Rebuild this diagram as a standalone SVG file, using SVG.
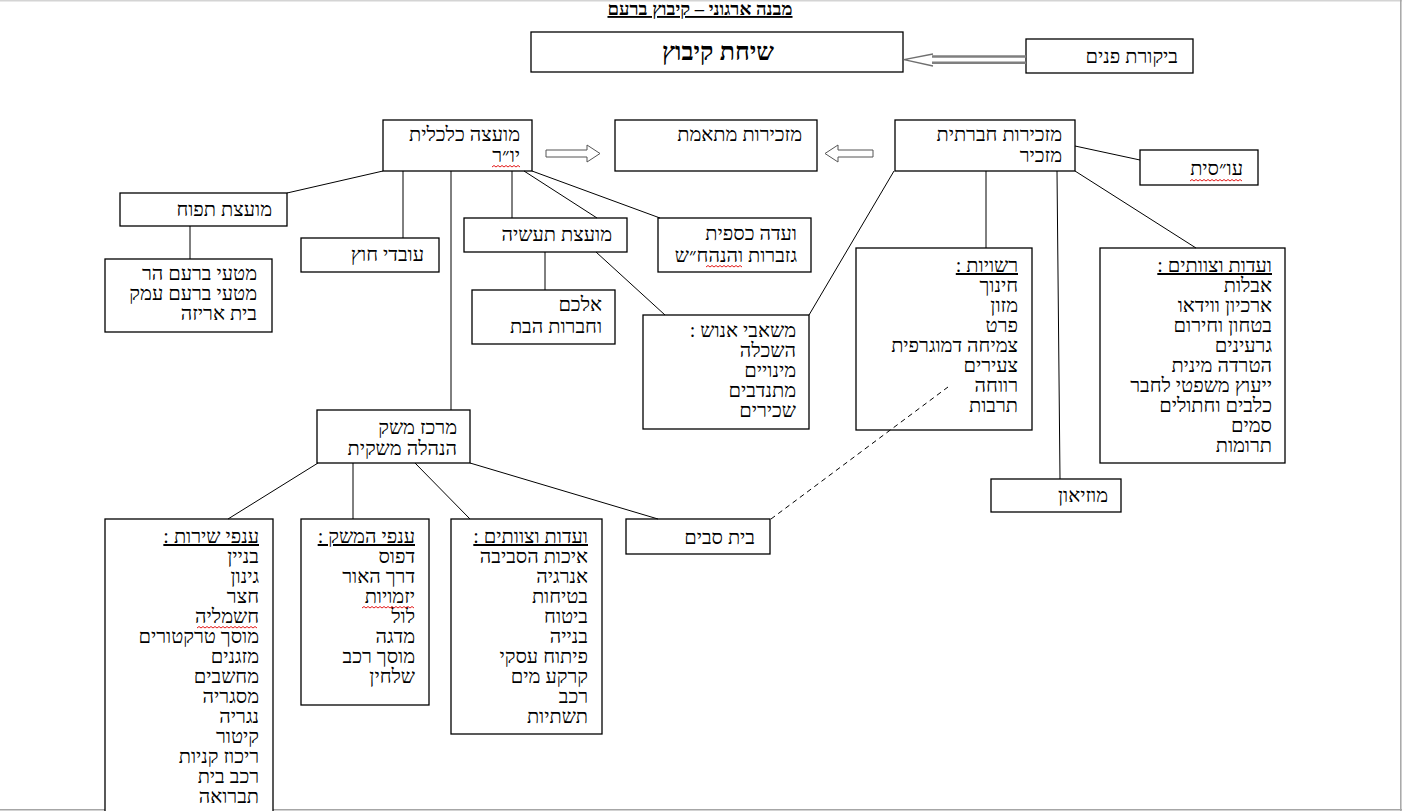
<svg xmlns="http://www.w3.org/2000/svg" width="1402" height="811" viewBox="0 0 1402 811">
<style>
  .box{fill:#fff;stroke:#000;stroke-width:1.3}
  .t{font-family:"Liberation Serif","DejaVu Sans",serif;font-size:20px;direction:rtl;text-anchor:start;fill:#000}
  .h{text-decoration:underline}
  .c line,.c polyline{stroke:#000;stroke-width:1;fill:none}
  .dash{stroke-dasharray:5,4}
  .sq{fill:none;stroke:#e00000;stroke-width:0.9}
  .frame{stroke-width:1.5;fill:none}
</style>
<rect x="0" y="0" width="1402" height="811" fill="#fff"/>
<line class="frame" x1="0" y1="0.8" x2="1402" y2="0.8" stroke="#d4d4d4"/>
<line class="frame" x1="1400.8" y1="0" x2="1400.8" y2="811" stroke="#a6a6a6"/>
<line class="frame" x1="0" y1="809.8" x2="1402" y2="809.8" stroke="#a6a6a6"/>

<text id="title" x="700" y="15" style="font-family:'Liberation Serif','DejaVu Sans',serif;font-size:18.5px;font-weight:bold;text-anchor:middle;direction:rtl;text-decoration:underline">מבנה ארגוני – קיבוץ ברעם</text>

<g id="sicha">
  <rect class="box" x="531" y="32" width="372" height="40"/>
  <text x="718" y="60" style="font-family:'Liberation Serif','DejaVu Sans',serif;font-size:25px;font-weight:bold;text-anchor:middle;direction:rtl">שיחת קיבוץ</text>
</g>
<g id="bikoret">
  <rect class="box" x="1026" y="39" width="167" height="34"/>
  <text class="t" x="1178" y="63">ביקורת פנים</text>
</g>
<g id="moetza">
  <rect class="box" x="383" y="120" width="149" height="51"/>
  <text class="t" x="520" y="141">מועצה כלכלית</text>
  <text class="t" x="520" y="162">יו״ר</text>
</g>
<g id="mazkirut-metaemet">
  <rect class="box" x="615" y="120" width="202" height="51"/>
  <text class="t" x="802" y="141">מזכירות מתאמת</text>
</g>
<g id="mazkirut-hevratit">
  <rect class="box" x="895" y="120" width="180" height="51"/>
  <text class="t" x="1062" y="141">מזכירות חברתית</text>
  <text class="t" x="1062" y="162">מזכיר</text>
</g>
<g id="osit">
  <rect class="box" x="1140" y="150" width="118" height="35"/>
  <text class="t" x="1243" y="175">עו״סית</text>
</g>
<g id="tapuah">
  <rect class="box" x="120" y="193" width="167" height="33"/>
  <text class="t" x="272" y="216">מועצת תפוח</text>
</g>
<g id="ovdei-hutz">
  <rect class="box" x="301" y="238" width="138" height="34"/>
  <text class="t" x="424" y="261">עובדי חוץ</text>
</g>
<g id="taasiya">
  <rect class="box" x="464" y="218" width="163" height="34"/>
  <text class="t" x="612" y="241">מועצת תעשיה</text>
</g>
<g id="vaada-kaspit">
  <rect class="box" x="658" y="218" width="153" height="54"/>
  <text class="t" x="797" y="240">ועדה כספית</text>
  <text class="t" x="797" y="262">גזברות והנהח״ש</text>
</g>
<g id="mataim">
  <rect class="box" x="105" y="259" width="167" height="73"/>
  <text class="t" x="257" y="280">מטעי ברעם הר</text>
  <text class="t" x="257" y="300">מטעי ברעם עמק</text>
  <text class="t" x="257" y="320">בית אריזה</text>
</g>
<g id="alkam">
  <rect class="box" x="472" y="290" width="143" height="54"/>
  <text class="t" x="602" y="311">אלכם</text>
  <text class="t" x="602" y="333">וחברות הבת</text>
</g>
<g id="mashabei-enosh">
  <rect class="box" x="643" y="315" width="166" height="114"/>
  <text class="t" x="796" y="337">משאבי אנוש :</text>
  <text class="t" x="796" y="357">השכלה</text>
  <text class="t" x="796" y="377">מינויים</text>
  <text class="t" x="796" y="397">מתנדבים</text>
  <text class="t" x="796" y="417">שכירים</text>
</g>
<g id="rashuyot">
  <rect class="box" x="856" y="248" width="176" height="182"/>
  <text class="t h" x="1018" y="272">רשויות :</text>
  <text class="t" x="1018" y="292">חינוך</text>
  <text class="t" x="1018" y="312">מזון</text>
  <text class="t" x="1018" y="332">פרט</text>
  <text class="t" x="1018" y="352">צמיחה דמוגרפית</text>
  <text class="t" x="1018" y="372">צעירים</text>
  <text class="t" x="1018" y="392">רווחה</text>
  <text class="t" x="1018" y="412">תרבות</text>
</g>
<g id="vaadot-hevra">
  <rect class="box" x="1100" y="248" width="185" height="215"/>
  <text class="t h" x="1272" y="272">ועדות וצוותים :</text>
  <text class="t" x="1272" y="292">אבלות</text>
  <text class="t" x="1272" y="312">ארכיון ווידאו</text>
  <text class="t" x="1272" y="332">בטחון וחירום</text>
  <text class="t" x="1272" y="352">גרעינים</text>
  <text class="t" x="1272" y="372">הטרדה מינית</text>
  <text class="t" x="1272" y="392">ייעוץ משפטי לחבר</text>
  <text class="t" x="1272" y="412">כלבים וחתולים</text>
  <text class="t" x="1272" y="432">סמים</text>
  <text class="t" x="1272" y="452">תרומות</text>
</g>
<g id="muzeon">
  <rect class="box" x="991" y="479" width="130" height="33"/>
  <text class="t" x="1108" y="502">מוזיאון</text>
</g>
<g id="merkaz-meshek">
  <rect class="box" x="317" y="410" width="153" height="53"/>
  <text class="t" x="457" y="434">מרכז משק</text>
  <text class="t" x="457" y="455">הנהלה משקית</text>
</g>
<g id="beit-savim">
  <rect class="box" x="626" y="519" width="144" height="35"/>
  <text class="t" x="755" y="544">בית סבים</text>
</g>
<g id="anfei-sherut">
  <rect class="box" x="105" y="519" width="168" height="300"/>
  <text class="t h" x="259" y="543">ענפי שירות :</text>
  <text class="t" x="259" y="563">בניין</text>
  <text class="t" x="259" y="583">גינון</text>
  <text class="t" x="259" y="603">חצר</text>
  <text class="t" x="259" y="623">חשמליה</text>
  <text class="t" x="259" y="643">מוסך טרקטורים</text>
  <text class="t" x="259" y="663">מזגנים</text>
  <text class="t" x="259" y="683">מחשבים</text>
  <text class="t" x="259" y="703">מסגריה</text>
  <text class="t" x="259" y="723">נגריה</text>
  <text class="t" x="259" y="743">קיטור</text>
  <text class="t" x="259" y="763">ריכוז קניות</text>
  <text class="t" x="259" y="783">רכב בית</text>
  <text class="t" x="259" y="803">תברואה</text>
</g>
<g id="anfei-meshek">
  <rect class="box" x="301" y="519" width="128" height="186"/>
  <text class="t h" x="415" y="543">ענפי המשק :</text>
  <text class="t" x="415" y="563">דפוס</text>
  <text class="t" x="415" y="583">דרך האור</text>
  <text class="t" x="415" y="603">יזמויות</text>
  <text class="t" x="415" y="623">לול</text>
  <text class="t" x="415" y="643">מדגה</text>
  <text class="t" x="415" y="663">מוסך רכב</text>
  <text class="t" x="415" y="683">שלחין</text>
</g>
<g id="vaadot-meshek">
  <rect class="box" x="451" y="519" width="151" height="215"/>
  <text class="t h" x="588" y="543">ועדות וצוותים :</text>
  <text class="t" x="588" y="563">איכות הסביבה</text>
  <text class="t" x="588" y="583">אנרגיה</text>
  <text class="t" x="588" y="603">בטיחות</text>
  <text class="t" x="588" y="623">ביטוח</text>
  <text class="t" x="588" y="643">בנייה</text>
  <text class="t" x="588" y="663">פיתוח עסקי</text>
  <text class="t" x="588" y="683">קרקע מים</text>
  <text class="t" x="588" y="703">רכב</text>
  <text class="t" x="588" y="723">תשתיות</text>
</g>

<g id="connectors" class="c">
  <line x1="383" y1="171" x2="287" y2="193"/>
  <line x1="403" y1="171" x2="403" y2="238"/>
  <line x1="451" y1="171" x2="451" y2="410"/>
  <line x1="512" y1="171" x2="512" y2="218"/>
  <line x1="524" y1="171" x2="597" y2="218"/>
  <line x1="596" y1="252" x2="665" y2="315"/>
  <line x1="532" y1="171" x2="660" y2="218"/>
  <line x1="190" y1="226" x2="190" y2="259"/>
  <line x1="545" y1="252" x2="545" y2="290"/>
  <line x1="894" y1="171" x2="809" y2="315"/>
  <line x1="986" y1="171" x2="986" y2="248"/>
  <line x1="1057" y1="171" x2="1060" y2="479"/>
  <line x1="1075" y1="146" x2="1140" y2="160"/>
  <line x1="1075" y1="171" x2="1196" y2="248"/>
  <line x1="318" y1="463" x2="228" y2="519"/>
  <line x1="353" y1="463" x2="353" y2="519"/>
  <line x1="415" y1="463" x2="470" y2="519"/>
  <line x1="470" y1="463" x2="658" y2="519"/>
  <line class="dash" x1="771" y1="519" x2="948" y2="387"/>
  <line x1="932" y1="56.5" x2="1026" y2="56.5" style="stroke:#7f7f7f;stroke-width:2.6"/>
  <line x1="932" y1="62.8" x2="1026" y2="62.8" style="stroke:#7f7f7f;stroke-width:2.6"/>
  <polyline points="933,54 904,59.6 933,66" style="stroke:#6f6f6f;stroke-width:1.3"/>
  <polygon points="546,150 587,150 587,145 600,153.5 587,162 587,157 546,157" style="fill:#fff;stroke:#555;stroke-width:1"/>
  <polygon points="873,150 838,150 838,145 825,153.5 838,162 838,157 873,157" style="fill:#fff;stroke:#555;stroke-width:1"/>
</g>

<g id="squiggles">
  <path class="sq" d="M492,167 l2,-1.5 l2,1.5 l2,-1.5 l2,1.5 l2,-1.5 l2,1.5 l2,-1.5 l2,1.5 l2,-1.5 l2,1.5 l2,-1.5 l2,1.5 l2,-1.5 l2,1.5"/>
  <path class="sq" d="M1190,181 l2,-1.5 l2,1.5 l2,-1.5 l2,1.5 l2,-1.5 l2,1.5 l2,-1.5 l2,1.5 l2,-1.5 l2,1.5 l2,-1.5 l2,1.5 l2,-1.5 l2,1.5 l2,-1.5 l2,1.5 l2,-1.5 l2,1.5 l2,-1.5 l2,1.5 l2,-1.5 l2,1.5 l2,-1.5 l2,1.5 l2,-1.5 l2,1.5"/>
  <path class="sq" d="M706,267 l2,-1.5 l2,1.5 l2,-1.5 l2,1.5 l2,-1.5 l2,1.5 l2,-1.5 l2,1.5 l2,-1.5 l2,1.5 l2,-1.5 l2,1.5 l2,-1.5 l2,1.5 l2,-1.5 l2,1.5 l2,-1.5 l2,1.5"/>
  <path class="sq" d="M197,628 l2,-1.5 l2,1.5 l2,-1.5 l2,1.5 l2,-1.5 l2,1.5 l2,-1.5 l2,1.5 l2,-1.5 l2,1.5 l2,-1.5 l2,1.5 l2,-1.5 l2,1.5 l2,-1.5 l2,1.5 l2,-1.5 l2,1.5 l2,-1.5 l2,1.5 l2,-1.5 l2,1.5 l2,-1.5 l2,1.5 l2,-1.5 l2,1.5 l2,-1.5 l2,1.5 l2,-1.5 l2,1.5"/>
  <path class="sq" d="M362,608 l2,-1.5 l2,1.5 l2,-1.5 l2,1.5 l2,-1.5 l2,1.5 l2,-1.5 l2,1.5 l2,-1.5 l2,1.5 l2,-1.5 l2,1.5 l2,-1.5 l2,1.5 l2,-1.5 l2,1.5 l2,-1.5 l2,1.5 l2,-1.5 l2,1.5 l2,-1.5 l2,1.5 l2,-1.5 l2,1.5 l2,-1.5 l2,1.5"/>
</g>
</svg>
